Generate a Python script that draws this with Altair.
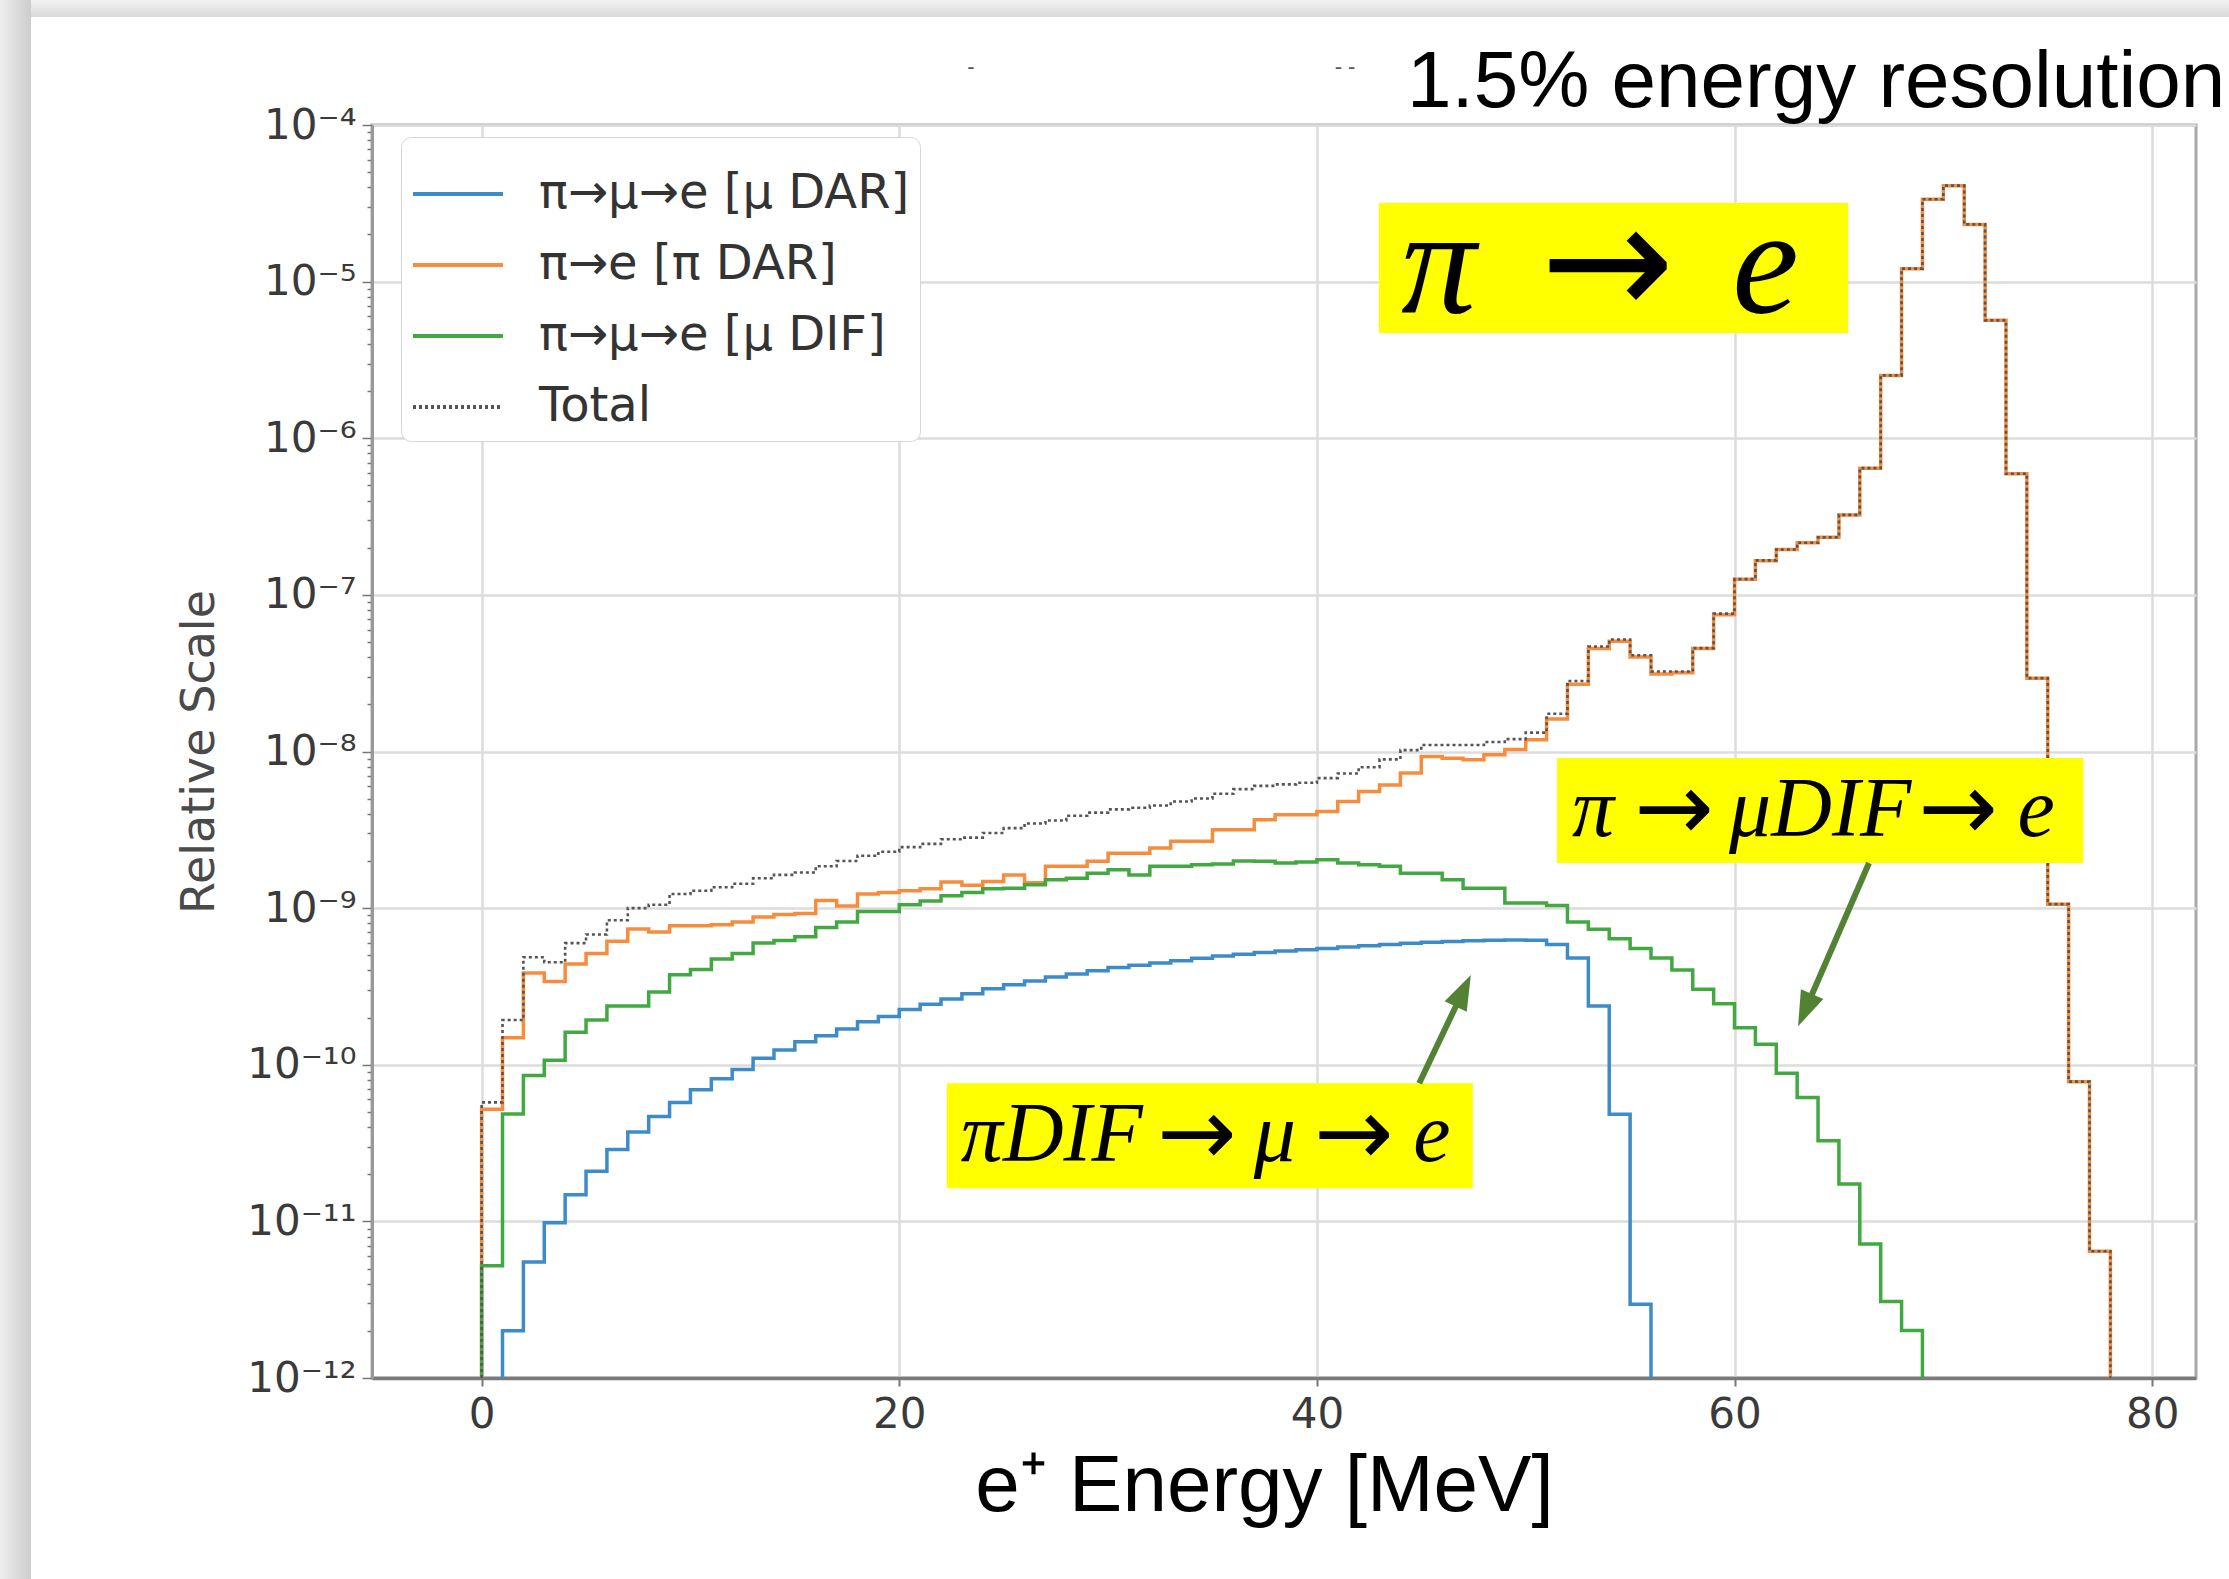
import altair as alt
import pandas as pd

# ---------------- values ----------------
series_names = ["π→μ→e [μ DAR]", "π→e [π DAR]", "π→μ→e [μ DIF]", "Total"]
series_colors = ["#3d8bc9", "#f78c3c", "#42a842", "#555555"]
series_dash = [[1, 0], [1, 0], [1, 0], [3, 3]]

bin_width = 1.0          # MeV
floor_value = 1e-12      # bottom of the log axis

# pi -> mu -> e  [mu DAR], bins 1..55
blue_first_bin = 1
blue_vals = [2.0e-12, 5.5e-12, 9.8e-12, 1.48e-11, 2.09e-11, 2.88e-11, 3.72e-11, 4.68e-11, 5.75e-11, 6.92e-11,
             8.13e-11, 9.33e-11, 1.10e-10, 1.24e-10, 1.40e-10, 1.53e-10, 1.69e-10, 1.88e-10, 2.03e-10, 2.25e-10,
             2.43e-10, 2.63e-10, 2.84e-10, 3.06e-10, 3.24e-10, 3.43e-10, 3.63e-10, 3.80e-10, 3.98e-10, 4.17e-10,
             4.32e-10, 4.47e-10, 4.62e-10, 4.79e-10, 4.95e-10, 5.07e-10, 5.21e-10, 5.33e-10, 5.43e-10, 5.53e-10,
             5.65e-10, 5.75e-10, 5.86e-10, 5.96e-10, 6.05e-10, 6.12e-10, 6.19e-10, 6.24e-10, 6.27e-10, 6.24e-10,
             5.85e-10, 4.80e-10, 2.37e-10, 4.83e-11, 2.96e-12]

# pi -> e [pi DAR], bins 0..77
orange_first_bin = 0
orange_vals = [5.19e-11, 1.49e-10, 3.86e-10, 3.40e-10, 4.39e-10, 5.13e-10, 6.14e-10, 7.35e-10, 7.05e-10, 7.73e-10,
               7.73e-10, 7.82e-10, 8.15e-10, 8.79e-10, 9.12e-10, 9.25e-10, 1.12e-9, 1.03e-9, 1.23e-9, 1.26e-9,
               1.29e-9, 1.33e-9, 1.47e-9, 1.40e-9, 1.48e-9, 1.63e-9, 1.45e-9, 1.85e-9, 1.85e-9, 1.99e-9,
               2.24e-9, 2.24e-9, 2.42e-9, 2.67e-9, 2.67e-9, 3.16e-9, 3.16e-9, 3.66e-9, 3.94e-9, 3.94e-9,
               4.14e-9, 4.80e-9, 5.56e-9, 6.12e-9, 7.28e-9, 9.29e-9, 9.06e-9, 8.85e-9, 9.53e-9, 1.03e-8,
               1.19e-8, 1.61e-8, 2.69e-8, 4.54e-8, 5.06e-8, 4.01e-8, 3.13e-8, 3.18e-8, 4.54e-8, 7.48e-8,
               1.26e-7, 1.65e-7, 1.95e-7, 2.15e-7, 2.33e-7, 3.24e-7, 6.44e-7, 2.52e-6, 1.21e-5, 3.36e-5,
               4.10e-5, 2.32e-5, 5.66e-6, 5.93e-7, 2.94e-8, 1.06e-9, 7.80e-11, 6.44e-12]

# pi -> mu -> e [mu DIF], bins 0..68
green_first_bin = 0
green_vals = [5.20e-12, 4.85e-11, 8.55e-11, 1.07e-10, 1.61e-10, 1.93e-10, 2.37e-10, 2.37e-10, 2.91e-10, 3.76e-10,
              4.06e-10, 4.74e-10, 5.13e-10, 5.98e-10, 6.22e-10, 6.56e-10, 7.53e-10, 8.15e-10, 9.51e-10, 9.51e-10,
              1.05e-9, 1.11e-9, 1.20e-9, 1.26e-9, 1.33e-9, 1.34e-9, 1.41e-9, 1.52e-9, 1.55e-9, 1.67e-9,
              1.76e-9, 1.63e-9, 1.85e-9, 1.85e-9, 1.89e-9, 1.91e-9, 2.00e-9, 1.99e-9, 1.94e-9, 1.97e-9,
              2.04e-9, 1.94e-9, 1.89e-9, 1.85e-9, 1.67e-9, 1.67e-9, 1.52e-9, 1.34e-9, 1.34e-9, 1.08e-9,
              1.08e-9, 1.04e-9, 8.15e-10, 7.33e-10, 6.37e-10, 5.52e-10, 4.80e-10, 4.02e-10, 3.03e-10, 2.45e-10,
              1.72e-10, 1.35e-10, 8.81e-11, 6.18e-11, 3.27e-11, 1.73e-11, 7.18e-12, 3.08e-12, 2.01e-12]

# Total, bins 0..77
total_first_bin = 0
total_vals = [5.75e-11, 1.93e-10, 4.86e-10, 4.51e-10, 5.98e-10, 6.79e-10, 8.36e-10, 1.00e-9, 1.05e-9, 1.23e-9,
              1.29e-9, 1.36e-9, 1.43e-9, 1.55e-9, 1.63e-9, 1.69e-9, 1.85e-9, 2.00e-9, 2.16e-9, 2.29e-9,
              2.45e-9, 2.57e-9, 2.75e-9, 2.82e-9, 3.02e-9, 3.24e-9, 3.47e-9, 3.63e-9, 3.89e-9, 4.07e-9,
              4.27e-9, 4.37e-9, 4.52e-9, 4.79e-9, 5.01e-9, 5.37e-9, 5.75e-9, 6.03e-9, 6.17e-9, 6.31e-9,
              6.76e-9, 7.24e-9, 7.94e-9, 8.91e-9, 1.02e-8, 1.10e-8, 1.10e-8, 1.10e-8, 1.15e-8, 1.20e-8,
              1.32e-8, 1.74e-8, 2.82e-8, 4.68e-8, 5.19e-8, 4.12e-8, 3.24e-8, 3.24e-8, 4.57e-8, 7.59e-8,
              1.26e-7, 1.66e-7, 1.95e-7, 2.15e-7, 2.33e-7, 3.24e-7, 6.45e-7, 2.52e-6, 1.21e-5, 3.36e-5,
              4.10e-5, 2.32e-5, 5.66e-6, 5.93e-7, 2.94e-8, 1.06e-9, 7.80e-11, 6.45e-12]

x_ticks = [0, 20, 40, 60, 80]

# annotation boxes (data units: MeV, relative scale)
box_x0 = [42.97, 51.5, 22.28]
box_x1 = [65.44, 76.7, 47.47]
box_y0 = [3.18e-5, 9.08e-9, 7.62e-11]
box_y1 = [4.70e-6, 1.94e-9, 1.63e-11]

# text pieces inside each box: (box index, text, is_arrow)
seg_box = [0, 0, 0, 1, 1, 1, 1, 1, 2, 2, 2, 2, 2]
seg_text = ["π", "→", "e", "π", "→", "μDIF", "→", "e", "πDIF", "→", "μ", "→", "e"]
seg_arrow = [False, True, False, False, True, False, True, False, False, True, False, True, False]

# arrows: start (tail), head centre, head angle
arrow_x0 = [44.9, 66.44]
arrow_y0 = [7.62e-11, 1.94e-9]
arrow_x1 = [47.01, 63.38]
arrow_y1 = [2.97e-10, 2.23e-10]
arrow_angle = [25.7, 203.7]

# ---------------- layout / style (pixels) ----------------
seg_dx = [-175, -6, 152, -227, -146, 0, 138, 216, -158, -13, 65, 144, 222]
seg_size = [150, 160, 150, 84, 95, 84, 95, 84, 84, 95, 84, 95, 84]

# ---------------- build tables ----------------
rows = []
for name, first, vals in [(series_names[0], blue_first_bin, blue_vals),
                          (series_names[1], orange_first_bin, orange_vals),
                          (series_names[2], green_first_bin, green_vals),
                          (series_names[3], total_first_bin, total_vals)]:
    k = 0
    rows.append(dict(series=name, E=first * bin_width, v=floor_value, k=k)); k += 1
    for j, val in enumerate(vals):
        rows.append(dict(series=name, E=(first + j) * bin_width, v=val, k=k)); k += 1
    end = (first + len(vals)) * bin_width
    rows.append(dict(series=name, E=end, v=vals[-1], k=k)); k += 1
    rows.append(dict(series=name, E=end, v=floor_value, k=k))
df = pd.DataFrame(rows)

boxes = pd.DataFrame(dict(x0=box_x0, x1=box_x1, y0=box_y0, y1=box_y1))
boxes["xm"] = (boxes.x0 + boxes.x1) / 2
boxes["ym"] = (boxes.y0 * boxes.y1) ** 0.5
arrows = pd.DataFrame(dict(x0=arrow_x0, y0=arrow_y0, x1=arrow_x1, y1=arrow_y1, ang=arrow_angle))

# ---------------- scales & axes ----------------
W, H = 1824, 1253
x_scale = alt.Scale(domain=[-5.25, 82.1], nice=False, zero=False)
y_scale = alt.Scale(type="log", domain=[1e-12, 1e-4], nice=False)

SUP = str.maketrans("-0123456789", "⁻⁰¹²³⁴⁵⁶⁷⁸⁹")
major_exps = list(range(-12, -3))
y_ticks = []
for e in range(-12, -4):
    for m in range(1, 10):
        y_ticks.append(m * 10.0 ** e)
y_ticks.append(1e-4)

LOG10 = "(log(datum.value)/LN10)"
MAJOR = f"abs({LOG10} - round({LOG10})) < 0.01"
label_arr = "[" + ",".join("'10%s'" % str(e).translate(SUP) for e in major_exps) + "]"
label_expr = f"({MAJOR}) ? {label_arr}[round({LOG10})+12] : ''"

x_axis = alt.Axis(values=x_ticks, title="e⁺ Energy [MeV]", titleFont="Liberation Sans",
                  titleFontSize=80, titleFontWeight="normal", titleColor="black",
                  titleX=892, titleY=132, titleBaseline="alphabetic", titleAlign="center",
                  labelFont="DejaVu Sans", labelFontSize=42, labelColor="#3a3a3a", labelPadding=8,
                  labelFlush=False, tickSize=8, tickColor="#777777", tickWidth=2,
                  grid=True, gridColor="#dcdcdc", gridWidth=2.5,
                  domainColor="#7a7a7a", domainWidth=3.5)
y_axis = alt.Axis(values=y_ticks, labelExpr=label_expr, labelOverlap=False, labelBound=False,
                  labelFont="DejaVu Sans", labelFontSize=42, labelColor="#3a3a3a", labelPadding=6,
                  tickSize={"condition": {"test": MAJOR, "value": 10}, "value": 5},
                  tickColor="#777777", tickWidth=1.5,
                  grid=True, gridColor="#dcdcdc", gridWidth=2.5,
                  gridOpacity={"condition": {"test": MAJOR, "value": 1}, "value": 0},
                  domainColor="#999999", domainWidth=3,
                  title="Relative Scale", titleFont="DejaVu Sans", titleFontSize=46,
                  titleFontWeight="normal", titleColor="#4a4a4a",
                  titleX=-173, titleY=H / 2, titleBaseline="middle", titleAlign="center")

legend = alt.Legend(orient="none", legendX=29, legendY=12, title=None,
                    symbolType="stroke", symbolSize=8100, symbolStrokeWidth=4,
                    labelFont="DejaVu Sans", labelFontSize=48, labelColor="#333333",
                    labelOffset=34, labelLimit=900, padding=10, rowPadding=-12,
                    strokeColor="#d6d6d6", fillColor="white", cornerRadius=10)

color = alt.Color("series:N", scale=alt.Scale(domain=series_names, range=series_colors), legend=legend)
dash = alt.StrokeDash("series:N", scale=alt.Scale(domain=series_names, range=series_dash), legend=legend)

layers = []

# page shadow (decoration)
one = pd.DataFrame({"a": [0]})
layers.append(alt.Chart(one).mark_rect(color=alt.LinearGradient(
    gradient="linear", x1=0, x2=1, y1=0, y2=0,
    stops=[alt.GradientStop(color="#eeeeee", offset=0), alt.GradientStop(color="#cdcdcd", offset=1)])
).encode(x=alt.value(-372), x2=alt.value(-341), y=alt.value(-125), y2=alt.value(H + 201)))
layers.append(alt.Chart(one).mark_rect(color=alt.LinearGradient(
    gradient="linear", x1=0, x2=0, y1=0, y2=1,
    stops=[alt.GradientStop(color="#f2f2f2", offset=0), alt.GradientStop(color="#d9d9d9", offset=1)])
).encode(x=alt.value(-341), x2=alt.value(W + 33), y=alt.value(-125), y2=alt.value(-108)))

# histogram step lines
for name, sw in zip(series_names, [3.5, 3.5, 3.5, 2.6]):
    layers.append(
        alt.Chart(df).transform_filter(alt.datum.series == name)
        .mark_line(interpolate="step-after", strokeWidth=sw)
        .encode(x=alt.X("E:Q", scale=x_scale, axis=x_axis),
                y=alt.Y("v:Q", scale=y_scale, axis=y_axis),
                color=color, strokeDash=dash, order="k:Q")
    )

# yellow annotation boxes
layers.append(alt.Chart(boxes).mark_rect(color="#ffff00").encode(
    x=alt.X("x0:Q", scale=x_scale), x2="x1:Q", y=alt.Y("y0:Q", scale=y_scale), y2="y1:Q"))
for b, t, is_arrow, dx, fs in zip(seg_box, seg_text, seg_arrow, seg_dx, seg_size):
    seg_df = boxes.iloc[[b]].assign(t=t)
    if is_arrow:
        mk = alt.Chart(seg_df).mark_text(font="DejaVu Sans", fontSize=fs, color="black",
                                         align="center", baseline="middle", dx=dx)
    else:
        mk = alt.Chart(seg_df).mark_text(font="Liberation Serif", fontStyle="italic", fontSize=fs,
                                         color="black", align="center", baseline="middle", dx=dx)
    layers.append(mk.encode(x=alt.X("xm:Q", scale=x_scale), y=alt.Y("ym:Q", scale=y_scale), text="t:N"))

# arrows
layers.append(alt.Chart(arrows).mark_rule(color="#548235", strokeWidth=6).encode(
    x=alt.X("x0:Q", scale=x_scale), y=alt.Y("y0:Q", scale=y_scale), x2="x1:Q", y2="y1:Q"))
layers.append(alt.Chart(arrows).mark_point(
    shape="M0,-1L0.7,1L-0.7,1Z", size=1225, filled=True, color="#548235", opacity=1, strokeWidth=0
).encode(x=alt.X("x1:Q", scale=x_scale), y=alt.Y("y1:Q", scale=y_scale),
         angle=alt.Angle("ang:Q", scale=None)))

# header text
layers.append(alt.Chart(pd.DataFrame({"t": ["1.5% energy resolution"]})).mark_text(
    align="left", baseline="alphabetic", font="Liberation Sans", fontSize=80, color="black"
).encode(x=alt.value(1035), y=alt.value(-18), text="t:N"))
layers.append(alt.Chart(pd.DataFrame({"t": ["-", "- -"], "px": [599, 973]})).mark_text(
    align="center", baseline="middle", font="Liberation Sans", fontSize=22, color="#555555"
).encode(x=alt.X("px:Q", scale=None), y=alt.value(-58), text="t:N"))

chart = alt.layer(*layers).properties(
    width=W, height=H,
    autosize=alt.AutoSizeParams(type="none"),
    padding={"left": 372, "top": 125, "right": 33, "bottom": 201},
    background="white",
).configure_view(stroke="#a8a8a8", strokeWidth=3)

chart.save("out.html", embed_options={"renderer": "svg", "actions": False})
